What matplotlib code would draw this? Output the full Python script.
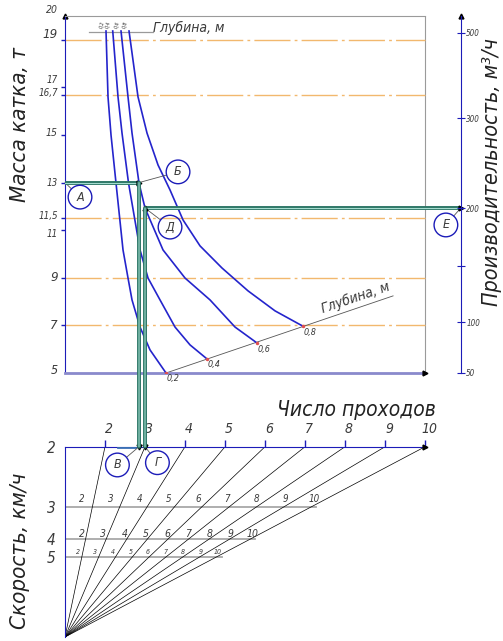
import matplotlib

matplotlib.use("Agg")
import matplotlib.pyplot as plt
import numpy as np
from matplotlib.patches import ConnectionPatch
from matplotlib.transforms import ScaledTranslation

# ---- values ----
# upper field: roller mass (t) against number of passes, one curve per rolled depth (m)
depth_labels = ["0,2", "0,4", "0,6", "0,8"]
passes_d02 = [2.025, 2.075, 2.15, 2.275, 2.45, 2.575, 2.675, 2.875, 3.125, 3.525]
mass_d02 = [19.37, 16.60, 15.00, 12.98, 10.17, 8.99, 8.07, 6.93, 5.97, 5.00]
passes_d04 = [2.193, 2.325, 2.425, 2.588, 2.725, 2.875, 3.075, 3.375, 3.75, 4.125, 4.55]
mass_d04 = [19.37, 16.60, 15.08, 12.98, 11.64, 10.17, 8.99, 8.07, 6.93, 6.18, 5.59]
passes_d06 = [2.4, 2.575, 2.675, 2.85, 3.0, 3.45, 4.0, 4.625, 5.25, 5.8]
mass_d06 = [19.37, 16.60, 15.08, 12.98, 11.93, 10.17, 8.99, 8.07, 6.93, 6.26]
passes_d08 = [2.6, 2.825, 3.05, 3.325, 3.625, 3.95, 4.375, 4.925, 5.575, 6.25, 6.943]
mass_d08 = [19.37, 16.60, 15.08, 13.74, 12.69, 11.43, 10.34, 9.41, 8.45, 7.61, 6.97]
depth_axis_end = (9.2, 8.24)

mass_ticks = [19, 17, 16.7, 15, 13, 11.5, 11, 9, 7]
mass_label_vals = [20, 19, 17, 16.7, 15, 13, 11.5, 11, 9, 7, 5]
mass_label_text = ["20", "19", "17", "16,7", "15", "13", "11,5", "11", "9", "7", "5"]
mass_guides = [19, 16.7, 11.5, 9, 7]

# productivity scale (m3/h), given by where its marks sit on the mass scale
prod_labels = ["500", "300", "200", "", "100", "50"]
prod_at_mass = [19.29, 15.71, 11.93, 9.5, 7.14, 5.0]

# lower field: number of passes fan and speed rows
pass_ticks = [2, 3, 4, 5, 6, 7, 8, 9, 10]
speeds = [2, 3, 4, 5]
speed_rows = [1.0, 0.685, 0.515, 0.422]

# worked example (A -> Б -> В/Г, Д -> Е)
ex_mass = 13
ex_passes_b = 2.85
ex_passes_d = 3.0
ex_mass_d = 11.93

# ---- styling ----
BLUE = "#1c1cb8"
CURVE = "#2424cc"
GRAY = "#9a9a9a"
TXT = "#3a3a3a"
ORANGE = "#f2b86e"
GREEN_D = "#2b7565"
GREEN_L = "#a4dccf"
FAM = ["DejaVu Sans Condensed", "DejaVu Sans"]

plt.rcParams["font.family"] = FAM
plt.rcParams["font.style"] = "italic"
plt.rcParams["font.stretch"] = "condensed"

W, H = 503, 641
fig = plt.figure(figsize=(W / 100, H / 100), dpi=100)
ax = fig.add_axes([65 / W, 268 / H, 395.7 / W, 357 / H])
ax2 = fig.add_axes([65 / W, 4 / H, 395.7 / W, 190.3 / H])
for a in (ax, ax2):
    a.set_xlim(1, 10.89)
    a.patch.set_alpha(0)
ax.set_ylim(5, 20)
ax2.set_ylim(0, 1)
xmax = ax.get_xlim()[1]

# ---- upper field frame ----
ax.spines["left"].set_color(BLUE)
ax.spines["left"].set_bounds(5, 20)
ax.spines["top"].set_color(GRAY)
ax.spines["top"].set_linewidth(0.8)
ax.spines["top"].set_bounds(1, 10)
ax.spines["bottom"].set_color("#8a8acc")
ax.spines["bottom"].set_linewidth(2)
ax.spines["bottom"].set_bounds(1, 10)
ax.spines["right"].set_visible(False)
ax.axvline(10, color=GRAY, lw=0.8)
ax.set_xticks([])
ax.set_yticks(mass_ticks)
ax.set_yticklabels([])
ax.tick_params(axis="y", direction="out", length=3, color=BLUE, width=1)

label_dy = [6, 5, 7, 1.5, 2, 0, 2, -3.5, 0, 0, 3]
label_fs = [7.5, 9.5, 7, 7, 7.5, 7, 7, 7, 9.5, 9.5, 9]
for v, s, dy, fs in zip(mass_label_vals, mass_label_text, label_dy, label_fs):
    ax.annotate(s, xy=(0, v), xycoords=("axes fraction", "data"), xytext=(-7, dy),
                textcoords="offset pixels", ha="right", va="center", fontsize=fs, color=TXT)

ax.hlines(mass_guides, 1, 10, colors=ORANGE, lw=1.0, linestyles=[(0, (26, 3, 2, 3))])

# depth curves
curves = [(passes_d02, mass_d02), (passes_d04, mass_d04), (passes_d06, mass_d06), (passes_d08, mass_d08)]
for (px, m), lab in zip(curves, depth_labels):
    ax.plot(px, m, color=CURVE, lw=1.2, zorder=3)
    ax.annotate(lab, xy=(px[0], m[0]), xytext=(-4, 2), textcoords="offset pixels",
                rotation=75, fontsize=3.8, ha="center", va="bottom", color=TXT)
    ax.annotate(lab, xy=(px[-1], m[-1]), xytext=(7, -6), textcoords="offset pixels",
                fontsize=6.5, ha="center", va="center", color=TXT)
    ax.plot(px[-1], m[-1], marker="o", ms=1.5, color="#e05050", zorder=4)

# depth scale along the curve ends
ax.plot([passes_d02[-1], depth_axis_end[0]], [mass_d02[-1], depth_axis_end[1]], color="#555555", lw=0.6)
ang = np.degrees(np.arctan2(depth_axis_end[1] - mass_d02[-1], depth_axis_end[0] - passes_d02[-1]))
ax.text(8.25, 8.15, "Глубина, м", rotation=ang, transform_rotates_text=True, rotation_mode="anchor",
        ha="center", va="center", fontsize=10, color=TXT)

# top depth caption
ax.plot([1.6, 3.2], [19.33, 19.33], color=GRAY, lw=0.9)
ax.text(3.2, 19.33, "Глубина, м", ha="left", va="baseline", fontsize=10, color=TXT)

# axis arrow heads
ax.plot([0], [1], transform=ax.transAxes, marker="^", ms=3.5, color="k", clip_on=False)
ax.plot([10], [5], marker=">", ms=3.5, color="k", clip_on=False, zorder=4)

# productivity axis on the right
axr = ax.twinx()
axr.set_ylim(5, 20)
for s in ("left", "top", "bottom"):
    axr.spines[s].set_visible(False)
axr.spines["right"].set_color(BLUE)
axr.set_yticks(prod_at_mass, prod_labels)
axr.tick_params(axis="y", direction="inout", length=6, color=BLUE, labelsize=5.8, labelcolor=TXT, pad=1)
axr.plot([1], [1], transform=axr.transAxes, marker="^", ms=3.5, color="k", clip_on=False)

# ---- lower field: passes fan ----
ax2.spines["left"].set_color(BLUE)
ax2.spines["left"].set_bounds(0, 1)
ax2.spines["top"].set_color(BLUE)
ax2.spines["top"].set_bounds(1, 10)
ax2.spines["right"].set_visible(False)
ax2.spines["bottom"].set_visible(False)
ax2.xaxis.tick_top()
ax2.set_xticks(pass_ticks, [str(k) for k in pass_ticks])
ax2.tick_params(axis="x", direction="out", length=5, color=BLUE, width=1, labelsize=10, labelcolor=TXT, pad=3)
for lbl in ax2.get_xticklabels():
    lbl.set_transform(lbl.get_transform() + ScaledTranslation(4 / 100, 0, fig.dpi_scale_trans))
ax2.set_yticks(speed_rows, [str(v) for v in speeds])
ax2.tick_params(axis="y", length=0, pad=7, labelsize=11, labelcolor=TXT)
ax2.plot([10], [1], marker=">", ms=3.5, color="k", clip_on=False, zorder=4)

for k in pass_ticks:
    ax2.plot([1, k], [0, 1], color="k", lw=0.5)

row_style = {3: (-12, 1.6, 7.5, 7), 4: (-4.5, 0.7, 5, 7.5), 5: (-4.5, 0.6, 4.5, 5)}
for v, t in zip(speeds[1:], speed_rows[1:]):
    dx0, slope, dy, fs = row_style[v]
    ax2.plot([1, 1 + (pass_ticks[-1] - 1) * t + 0.12], [t, t], color="#a8a8a8", lw=1.3, zorder=1)
    for k in pass_ticks:
        ax2.annotate(str(k), xy=(1 + (k - 1) * t, t), xytext=(dx0 + slope * (k - 1), dy),
                     textcoords="offset pixels", ha="center", va="center", fontsize=fs, color=TXT)

ax2.plot([2.33, 2.75], [1, 1], color="#3a6fb5", lw=2, zorder=3)


# ---- worked example route ----
def route(axis, xs, ys):
    axis.plot(xs, ys, color=GREEN_D, lw=2.8, clip_on=False, zorder=5, solid_capstyle="butt")
    axis.plot(xs, ys, color=GREEN_L, lw=0.8, clip_on=False, zorder=6)


route(ax, [1, ex_passes_b], [ex_mass, ex_mass])
route(ax, [ex_passes_d, xmax], [ex_mass_d, ex_mass_d])
for xp, y0 in ((ex_passes_b, ex_mass), (ex_passes_d, ex_mass_d)):
    for c, lw, z in ((GREEN_D, 2.8, 5), (GREEN_L, 0.8, 6)):
        cp = ConnectionPatch(xyA=(xp, y0), coordsA=ax.transData, xyB=(xp, 1), coordsB=ax2.transData,
                             color=c, lw=lw, zorder=z)
        fig.add_artist(cp)

ax.plot([ex_passes_b], [ex_mass], marker=">", ms=3.5, color="k", zorder=7)
ax.plot([ex_passes_d], [ex_mass_d], marker="^", ms=3.5, color="k", zorder=7)
ax.plot([xmax], [ex_mass_d], marker=">", ms=3.5, color="k", zorder=7, clip_on=False)
ax2.plot([ex_passes_b, ex_passes_d], [1, 1], ls="none", marker="v", ms=3.5, color="k", zorder=7, clip_on=False)


def badge(axis, center, letter, target):
    axis.scatter([center[0]], [center[1]], s=290, facecolors="none", edgecolors=BLUE, lw=1,
                 clip_on=False, zorder=8)
    axis.text(center[0], center[1], letter, ha="center", va="center", fontsize=9, color=TXT, zorder=9)
    axis.annotate("", xy=target, xytext=center,
                  arrowprops=dict(arrowstyle="-", shrinkA=8.5, shrinkB=0, lw=0.6, color="#555555"))


badge(ax, (1.375, 12.39), "А", (1, ex_mass))
badge(ax, (3.825, 13.45), "Б", (ex_passes_b, ex_mass))
badge(ax, (3.625, 11.13), "Д", (ex_passes_d, ex_mass_d))
badge(ax, (10.52, 11.22), "Е", (xmax, ex_mass_d))
badge(ax2, (2.31, 0.904), "В", (ex_passes_b, 1))
badge(ax2, (3.31, 0.916), "Г", (ex_passes_d, 1))

# ---- axis titles ----
fig.text(20 / W, 1 - 125 / H, "Масса катка, т", rotation=90, ha="center", va="center", fontsize=16, color="#222222")
fig.text(492 / W, 1 - 172 / H, "Производительность, м³/ч", rotation=90, ha="center", va="center",
         fontsize=15.5, color="#222222")
fig.text(356 / W, 1 - 410 / H, "Число проходов", ha="center", va="center", fontsize=15, color="#222222")
fig.text(20 / W, 1 - 551 / H, "Скорость, км/ч", rotation=90, ha="center", va="center", fontsize=16, color="#222222")

fig.savefig("out.png", dpi=100, facecolor="white")
